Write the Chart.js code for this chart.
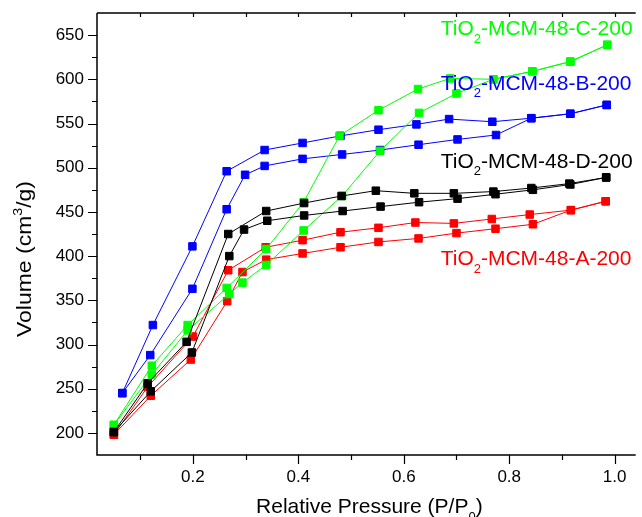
<!DOCTYPE html>
<html>
<head>
<meta charset="utf-8">
<script src="https://cdn.jsdelivr.net/npm/chart.js@4.4.0/dist/chart.umd.min.js"></script>
<style>
  html, body { margin: 0; padding: 0; background: #fff; }
</style>
</head>
<body>
<canvas id="myChart" width="642" height="517"></canvas>
<script>
// isotherm data, one array per branch
let redUpX = [0.05, 0.114, 0.2, 0.267, 0.338, 0.408, 0.48, 0.552, 0.622, 0.695, 0.767, 0.839, 0.917, 0.983]
let redUpY = [198, 252, 309, 384, 410, 418, 427, 432, 438, 437, 442, 447, 452, 462]
let redLowX = [0.05, 0.12, 0.196, 0.265, 0.294, 0.339, 0.408, 0.48, 0.552, 0.628, 0.7, 0.774, 0.845, 0.917, 0.983]
let redLowY = [198, 242, 283, 349, 382, 396, 403, 410, 416, 420, 426, 431, 436, 452, 462]

let blackUpX = [0.05, 0.114, 0.188, 0.267, 0.339, 0.411, 0.482, 0.547, 0.62, 0.695, 0.77, 0.842, 0.914, 0.984]
let blackUpY = [201, 256, 303, 425, 451, 460, 468, 474, 471, 471, 473, 477, 482, 489]
let blackLowX = [0.05, 0.12, 0.198, 0.269, 0.297, 0.341, 0.411, 0.484, 0.556, 0.629, 0.702, 0.774, 0.845, 0.916, 0.984]
let blackLowY = [201, 247, 291, 400, 430, 440, 446, 451, 456, 461, 465, 470, 475, 481, 489]

let blueUpX = [0.066, 0.124, 0.199, 0.264, 0.336, 0.408, 0.48, 0.552, 0.624, 0.686, 0.768, 0.842, 0.916, 0.985]
let blueUpY = [245, 322, 411, 496, 520, 528, 536, 543, 549, 555, 552, 556, 561, 571]
let blueLowX = [0.066, 0.119, 0.199, 0.264, 0.299, 0.336, 0.408, 0.483, 0.555, 0.628, 0.702, 0.775, 0.842, 0.916, 0.985]
let blueLowY = [245, 288, 363, 453, 492, 502, 510, 515, 520, 526, 532, 537, 556, 561, 571]

let greenUpX = [0.05, 0.122, 0.19, 0.264, 0.339, 0.41, 0.478, 0.552, 0.627, 0.688, 0.77, 0.844, 0.916, 0.986]
let greenUpY = [209, 276, 322, 364, 408, 461, 536, 565, 589, 601, 600, 609, 620, 639]
let greenLowX = [0.05, 0.122, 0.19, 0.269, 0.294, 0.339, 0.41, 0.483, 0.555, 0.629, 0.7, 0.77, 0.844, 0.916, 0.986]
let greenLowY = [209, 266, 316, 357, 370, 390, 429, 468, 519, 562, 584, 600, 609, 620, 639]

let xMajor = [0.2, 0.4, 0.6, 0.8, 1.0]
let xMinor = [0.1, 0.3, 0.5, 0.7, 0.9]
let yMajor = [200, 250, 300, 350, 400, 450, 500, 550, 600, 650]
let yMinor = [225, 275, 325, 375, 425, 475, 525, 575, 625]

// series labels drawn inside the plot ( _ marks a subscript )
let seriesLabels = ['TiO_2-MCM-48-C-200', 'TiO_2-MCM-48-B-200', 'TiO_2-MCM-48-D-200', 'TiO_2-MCM-48-A-200']
let labelColors = ['#00ff00', '#0000ff', '#000000', '#ff0000']
let labelX = 0.67
let labelY = [650, 588, 500, 390]

const FONT = '"Liberation Sans", Arial, sans-serif'

function pts(xs, ys) {
  return xs.map((x, i) => ({ x: x, y: ys[i] }))
}

function serie(xs, ys, color) {
  return {
    data: pts(xs, ys),
    borderColor: color,
    backgroundColor: color,
    borderWidth: 1,
    pointStyle: 'rect',
    pointRadius: 5.3,
    pointBorderWidth: 1,
    pointBorderColor: color,
    pointBackgroundColor: color,
    tension: 0
  }
}

// parse "TiO_2" / "cm^3" into parts
function parts(str) {
  let out = []
  let buf = ''
  for (let i = 0; i < str.length; i++) {
    let c = str[i]
    if ((c === '_' || c === '^') && i + 1 < str.length) {
      if (buf) out.push({ t: buf })
      buf = ''
      out.push({ t: str[i + 1], sub: c === '_', sup: c === '^' })
      i++
    } else buf += c
  }
  if (buf) out.push({ t: buf })
  return out
}

function richWidth(ctx, str, size) {
  let small = Math.round(size * 0.62)
  let w = 0
  parts(str).forEach(q => {
    ctx.font = ((q.sub || q.sup) ? small : size) + 'px ' + FONT
    w += ctx.measureText(q.t).width
  })
  return w
}

function drawRich(ctx, str, x, y, size, align, color) {
  let p = parts(str)
  let small = Math.round(size * 0.62)
  let w = richWidth(ctx, str, size)
  let cx = align === 'center' ? x - w / 2 : (align === 'right' ? x - w : x)
  ctx.fillStyle = color
  ctx.textAlign = 'left'
  ctx.textBaseline = 'alphabetic'
  p.forEach(q => {
    ctx.font = ((q.sub || q.sup) ? small : size) + 'px ' + FONT
    let dy = q.sub ? size * 0.36 : (q.sup ? -size * 0.42 : 0)
    ctx.fillText(q.t, cx, y + dy)
    cx += ctx.measureText(q.t).width
  })
}

const axesPlugin = {
  id: 'axesPlugin',
  afterDatasetsDraw(chart) {
    const ctx = chart.ctx
    const a = chart.chartArea
    const xs = chart.scales.x
    const ys = chart.scales.y
    ctx.save()
    ctx.strokeStyle = '#000'
    ctx.lineWidth = 1.5
    ctx.beginPath()
    ctx.moveTo(a.left, a.top)
    ctx.lineTo(a.left, a.bottom)
    ctx.lineTo(a.right, a.bottom)
    ctx.moveTo(a.left, a.top)
    ctx.lineTo(a.right, a.top)
    ctx.stroke()

    ctx.lineWidth = 1.2
    ctx.beginPath()
    xMajor.forEach(v => {
      let px = Math.round(xs.getPixelForValue(v)) + 0.5
      ctx.moveTo(px, a.bottom); ctx.lineTo(px, a.bottom + 9)
      ctx.moveTo(px, a.top); ctx.lineTo(px, a.top + 4)
    })
    xMinor.forEach(v => {
      let px = Math.round(xs.getPixelForValue(v)) + 0.5
      ctx.moveTo(px, a.bottom); ctx.lineTo(px, a.bottom + 5)
      ctx.moveTo(px, a.top); ctx.lineTo(px, a.top + 4)
    })
    yMajor.forEach(v => {
      let py = Math.round(ys.getPixelForValue(v)) + 0.5
      ctx.moveTo(a.left, py); ctx.lineTo(a.left - 9, py)
    })
    yMinor.forEach(v => {
      let py = Math.round(ys.getPixelForValue(v)) + 0.5
      ctx.moveTo(a.left, py); ctx.lineTo(a.left - 5, py)
    })
    ctx.stroke()

    // tick labels
    ctx.fillStyle = '#000'
    ctx.font = '17px ' + FONT
    ctx.textAlign = 'center'
    ctx.textBaseline = 'middle'
    xMajor.forEach(v => {
      ctx.fillText(v.toFixed(1), xs.getPixelForValue(v), a.bottom + 22)
    })
    ctx.textAlign = 'right'
    yMajor.forEach(v => {
      ctx.fillText(String(v), a.left - 13, ys.getPixelForValue(v))
    })

    // axis titles
    drawRich(ctx, 'Relative Pressure (P/P_0)', (a.left + a.right) / 2 + 3, a.bottom + 58, 21, 'center', '#000')
    let yTitle = 'Volume (cm^3/g)'
    let stretch = 156 / richWidth(ctx, yTitle, 21)
    ctx.save()
    ctx.translate(31, 259)
    ctx.rotate(-Math.PI / 2)
    ctx.scale(stretch, 1)
    drawRich(ctx, yTitle, 0, 0, 21, 'center', '#000')
    ctx.restore()

    // series labels
    seriesLabels.forEach((s, i) => {
      drawRich(ctx, s, xs.getPixelForValue(labelX), ys.getPixelForValue(labelY[i]), 21, 'left', labelColors[i])
    })
    ctx.restore()
  }
}

// first dataset is painted on top
const data = {
  datasets: [
    serie(blackUpX, blackUpY, '#000000'),
    serie(blackLowX, blackLowY, '#000000'),
    serie(greenUpX, greenUpY, '#00ff00'),
    serie(greenLowX, greenLowY, '#00ff00'),
    serie(blueUpX, blueUpY, '#0000ff'),
    serie(blueLowX, blueLowY, '#0000ff'),
    serie(redUpX, redUpY, '#ff0000'),
    serie(redLowX, redLowY, '#ff0000')
  ]
}

const config = {
  type: 'line',
  data: data,
  options: {
    responsive: false,
    animation: false,
    devicePixelRatio: 1,
    layout: { padding: { left: 97, right: 0, top: 13, bottom: 62 } },
    plugins: { legend: { display: false }, tooltip: { enabled: false } },
    scales: {
      x: { type: 'linear', min: 0.018, max: 1.04, display: false },
      y: { type: 'linear', min: 175, max: 675, display: false }
    }
  },
  plugins: [axesPlugin]
}

const myChart = new Chart(document.getElementById('myChart'), config)
</script>
</body>
</html>
